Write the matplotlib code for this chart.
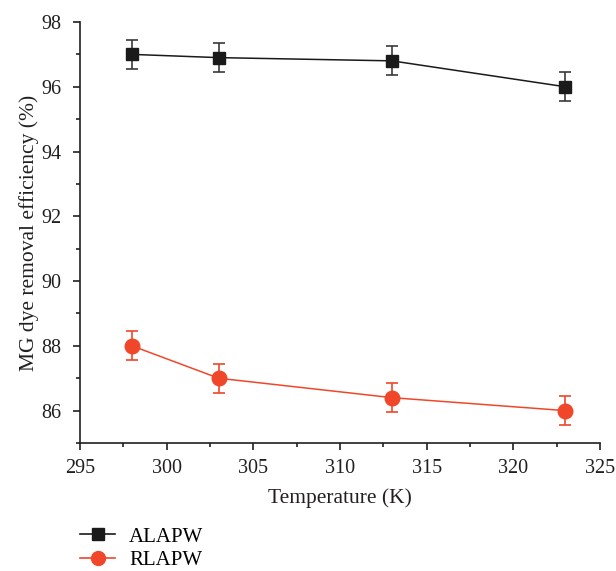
import matplotlib
matplotlib.use("Agg")
import matplotlib.pyplot as plt
from matplotlib.ticker import MultipleLocator
from matplotlib.lines import Line2D

plt.rcParams['font.family'] = ['Liberation Serif', 'DejaVu Serif']

temps = [298, 303, 313, 323]
alapw = [97.0, 96.9, 96.8, 96.0]
rlapw = [88.0, 87.0, 86.4, 86.0]
alapw_err = [0.45, 0.45, 0.45, 0.45]
rlapw_err = [0.45, 0.45, 0.45, 0.45]
series_names = ['ALAPW', 'RLAPW']

fig = plt.figure(figsize=(6.16, 5.71), dpi=100)
ax = fig.add_axes([80/616, 1 - 443/571, (600 - 80)/616, (443 - 22)/571])

black = '#1a1a1a'
red = '#f0472a'
txt = '#231f20'
ax.errorbar(temps, alapw, yerr=alapw_err, color=black, ecolor='#3a3a3a', marker='s', markersize=9,
            linewidth=1.1, capsize=4, capthick=1.2, elinewidth=1.2)
ax.errorbar(temps, rlapw, yerr=rlapw_err, color=red, marker='o', markersize=10.5,
            linewidth=1.1, capsize=4, capthick=1.2, elinewidth=1.2)

ax.set_xlim(295, 325)
ax.set_ylim(85, 98)
ax.xaxis.set_major_locator(MultipleLocator(5))
ax.xaxis.set_minor_locator(MultipleLocator(2.5))
ax.yaxis.set_major_locator(MultipleLocator(2))
ax.yaxis.set_minor_locator(MultipleLocator(1))
for s in ['top', 'right']:
    ax.spines[s].set_visible(False)
for s in ['left', 'bottom']:
    ax.spines[s].set_linewidth(1.2)
    ax.spines[s].set_color(txt)
ax.tick_params(which='major', direction='out', length=5.2, width=1.2, labelsize=14.5, colors=txt)
ax.tick_params(which='minor', direction='out', length=3, width=1.2, colors=txt)
ax.tick_params(axis='y', which='major', pad=8)
ax.tick_params(axis='x', which='major', pad=6)
ax.set_xlabel('Temperature (K)', fontsize=15.5, color=txt, labelpad=8)
ax.set_ylabel('MG dye removal efficiency (%)', fontsize=15.5, color=txt, labelpad=1.5)

handles = [Line2D([], [], color=black, marker='s', markersize=8, linewidth=1.2),
           Line2D([], [], color=red, marker='o', markersize=10, linewidth=1.2)]
fig.legend(handles=handles, labels=series_names, loc='upper left',
           bbox_to_anchor=(80/616, 1 - 527/571), frameon=False, fontsize=15,
           handlelength=1.7, labelspacing=0.18, handletextpad=0.65,
           borderpad=0, borderaxespad=0)

fig.savefig('out.png', dpi=100)
